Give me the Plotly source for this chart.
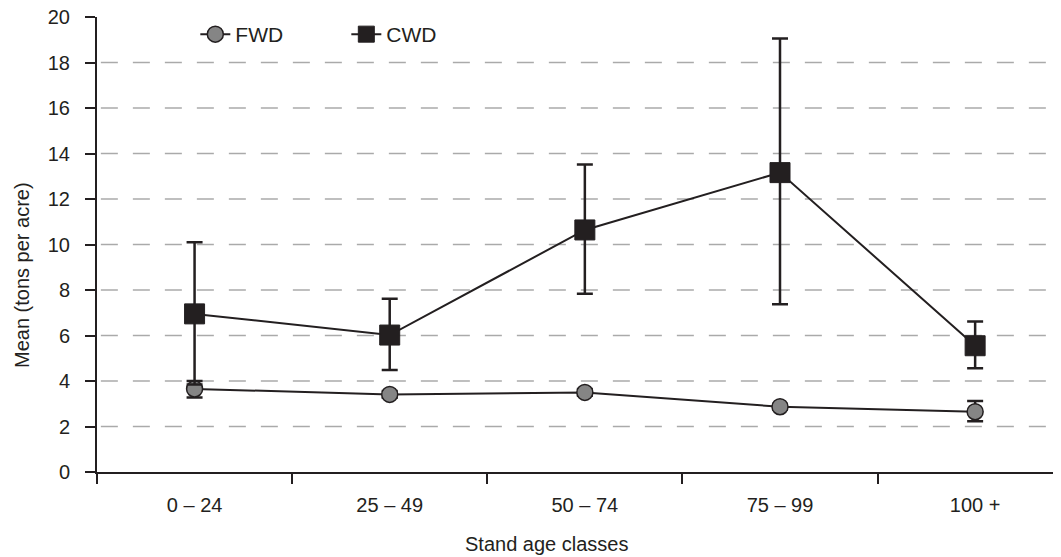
import plotly.graph_objects as go

categories = ["0 – 24", "25 – 49", "50 – 74", "75 – 99", "100 +"]
fwd_mean = [3.65, 3.41, 3.50, 2.87, 2.65]
fwd_err_plus = [0.35, 0.15, 0.15, 0.12, 0.47]
fwd_err_minus = [0.38, 0.15, 0.15, 0.12, 0.42]
cwd_mean = [6.95, 6.02, 10.64, 13.16, 5.55]
cwd_err_plus = [3.15, 1.60, 2.88, 5.90, 1.06]
cwd_err_minus = [3.10, 1.54, 2.80, 5.79, 0.99]
y_ticks = [0, 2, 4, 6, 8, 10, 12, 14, 16, 18, 20]
grid_vals = [2, 4, 6, 8, 10, 12, 14, 16, 18]

DARK = "#231f20"
FONT = "Liberation Sans, Arial, sans-serif"

fig = go.Figure()
fig.add_trace(go.Scatter(
    x=categories, y=fwd_mean, name="FWD", mode="lines+markers",
    line=dict(color=DARK, width=2),
    marker=dict(symbol="circle", size=16, color="#858585", line=dict(color=DARK, width=1.5)),
    error_y=dict(type="data", symmetric=False, array=fwd_err_plus, arrayminus=fwd_err_minus,
                 color=DARK, thickness=2.5, width=8),
))
fig.add_trace(go.Scatter(
    x=categories, y=cwd_mean, name="CWD", mode="lines+markers",
    line=dict(color=DARK, width=2),
    marker=dict(symbol="square", size=20, color=DARK, line=dict(color=DARK, width=1)),
    error_y=dict(type="data", symmetric=False, array=cwd_err_plus, arrayminus=cwd_err_minus,
                 color=DARK, thickness=2.5, width=8),
))

for g in grid_vals:
    fig.add_shape(type="line", xref="paper", yref="y", x0=0.004, x1=1, y0=g, y1=g,
                  line=dict(color="#aaaaaa", width=1.5, dash="17px,15px"), layer="below")

# page body has an 8px default margin, so the figure is 8px smaller and shifted
fig.add_annotation(text="Stand age classes", xref="paper", yref="paper",
                   x=(546 - 97) / 964, y=(472 - 544) / 455, xanchor="center", yanchor="middle",
                   showarrow=False, font=dict(size=20, color=DARK))
fig.add_annotation(text="Mean (tons per acre)", xref="paper", yref="paper", textangle=-90,
                   x=(22 - 97) / 964, y=(472 - 275) / 455, xanchor="center", yanchor="middle",
                   showarrow=False, font=dict(size=20, color=DARK))

fig.update_layout(
    width=1053, height=549,
    margin=dict(l=89, r=0, t=9, b=85, autoexpand=False),
    paper_bgcolor="white", plot_bgcolor="white",
    font=dict(family=FONT, size=20, color=DARK),
    showlegend=True,
    legend=dict(orientation="h", x=0.102, y=1.0066, xanchor="left", yanchor="top",
                font=dict(size=21, color=DARK), bgcolor="rgba(0,0,0,0)",
                entrywidth=106),
    xaxis=dict(type="category", categoryorder="array", categoryarray=categories,
               range=[-0.5, 4.44], tickson="boundaries", ticks="outside", ticklen=10,
               tickwidth=2, tickcolor=DARK, showline=True, linewidth=2, linecolor=DARK,
               showgrid=False, zeroline=False, automargin=False, ticklabelstandoff=14,
               ticklabeloverflow="allow"),
    yaxis=dict(range=[0, 20], tickvals=y_ticks, ticks="outside", ticklen=10, tickwidth=2,
               tickcolor=DARK, showline=True, linewidth=2, linecolor=DARK,
               showgrid=False, zeroline=False, automargin=False, ticklabelstandoff=11,
               ticklabeloverflow="allow"),
)

fig.write_html("out.html")
